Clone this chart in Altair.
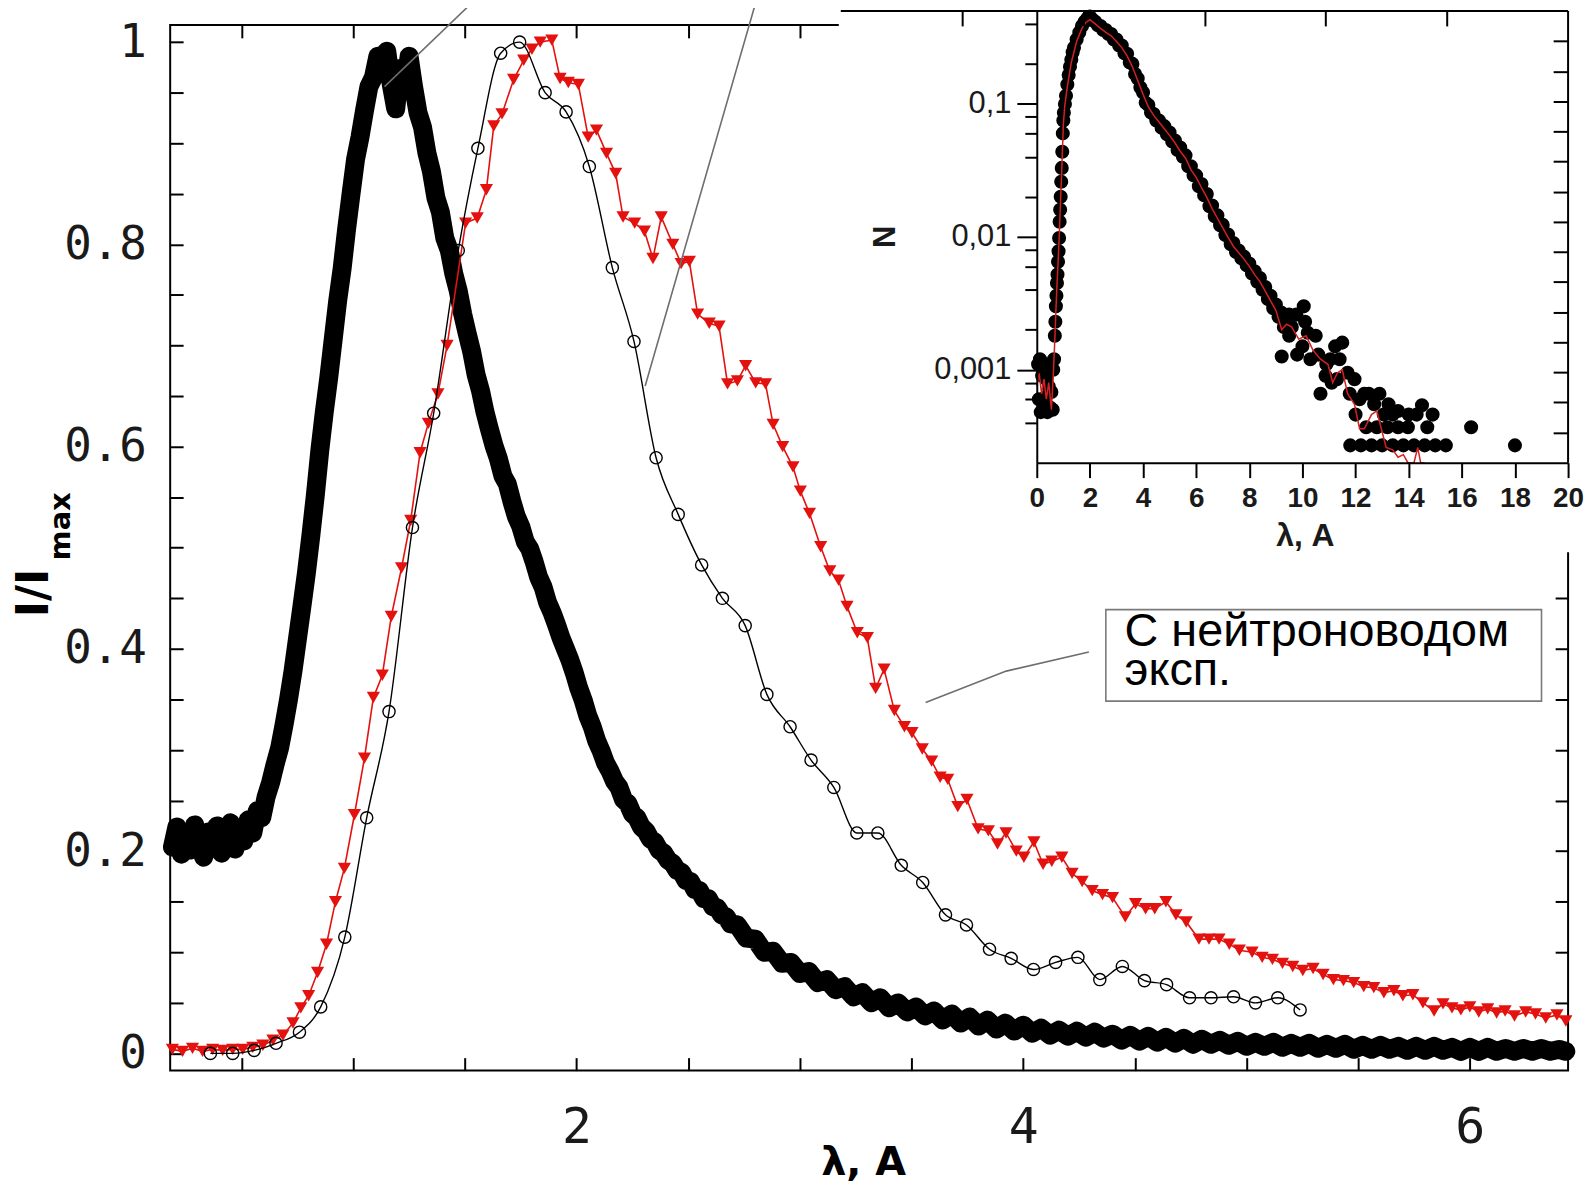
import altair as alt
import pandas as pd

# ---------------- main panel data (lambda, I/Imax) ----------------
BLACK_X = [0.19, 0.21, 0.23, 0.25, 0.27, 0.29, 0.31, 0.33, 0.35, 0.37, 0.39, 0.41, 0.43, 0.45, 0.47, 0.49,
           0.51, 0.53, 0.55, 0.57, 0.59, 0.61, 0.63, 0.65, 0.67, 0.69, 0.71, 0.73, 0.75, 0.77, 0.79, 0.81,
           0.83, 0.85, 0.87, 0.89, 0.91, 0.93, 0.95, 0.97, 0.99, 1.01, 1.03, 1.05, 1.07, 1.09, 1.11, 1.13,
           1.15, 1.17, 1.19, 1.21, 1.23, 1.25, 1.27, 1.29, 1.31, 1.33, 1.35, 1.37, 1.39, 1.41, 1.43, 1.45,
           1.47, 1.49, 1.51, 1.53, 1.55, 1.57, 1.59, 1.61, 1.63, 1.65, 1.67, 1.69, 1.71, 1.73, 1.75, 1.77,
           1.79, 1.81, 1.83, 1.85, 1.87, 1.89, 1.91, 1.93, 1.95, 1.97, 1.99, 2.01, 2.03, 2.05, 2.07, 2.09,
           2.11, 2.13, 2.15, 2.17, 2.19, 2.21, 2.23, 2.25, 2.27, 2.29, 2.31, 2.33, 2.35, 2.37, 2.39, 2.41,
           2.43, 2.45, 2.47, 2.49, 2.51, 2.53, 2.55, 2.57, 2.59, 2.61, 2.63, 2.65, 2.67, 2.69, 2.72, 2.76,
           2.80, 2.84, 2.88, 2.92, 2.96, 3.00, 3.04, 3.08, 3.12, 3.16, 3.20, 3.24, 3.28, 3.32, 3.36, 3.40,
           3.44, 3.48, 3.52, 3.56, 3.60, 3.64, 3.68, 3.72, 3.76, 3.80, 3.84, 3.88, 3.92, 3.96, 4.00, 4.04,
           4.08, 4.12, 4.16, 4.20, 4.24, 4.28, 4.32, 4.36, 4.40, 4.44, 4.48, 4.52, 4.56, 4.60, 4.64, 4.68,
           4.72, 4.76, 4.80, 4.84, 4.88, 4.92, 4.96, 5.00, 5.04, 5.08, 5.12, 5.16, 5.20, 5.24, 5.28, 5.32,
           5.36, 5.40, 5.44, 5.48, 5.52, 5.56, 5.60, 5.64, 5.68, 5.72, 5.76, 5.80, 5.84, 5.88, 5.92, 5.96,
           6.00, 6.04, 6.08, 6.12, 6.16, 6.20, 6.24, 6.28, 6.32, 6.36, 6.40, 6.43]
BLACK_Y = [0.204, 0.224, 0.197, 0.218, 0.201, 0.226, 0.209, 0.194, 0.219, 0.203, 0.225, 0.198, 0.215, 0.228, 0.202, 0.221,
           0.210, 0.231, 0.218, 0.240, 0.233, 0.254, 0.268, 0.286, 0.302, 0.325, 0.350, 0.378, 0.410, 0.442, 0.475, 0.512,
           0.552, 0.596, 0.634, 0.668, 0.706, 0.744, 0.776, 0.815, 0.850, 0.884, 0.906, 0.932, 0.956, 0.965, 0.986, 0.970,
           0.991, 0.958, 0.934, 0.974, 0.952, 0.986, 0.956, 0.930, 0.916, 0.890, 0.872, 0.846, 0.832, 0.806, 0.794, 0.771,
           0.754, 0.731, 0.712, 0.694, 0.671, 0.655, 0.634, 0.617, 0.601, 0.588, 0.571, 0.563, 0.546, 0.531, 0.521, 0.506,
           0.499, 0.486, 0.471, 0.461, 0.446, 0.436, 0.424, 0.411, 0.400, 0.389, 0.376, 0.361, 0.349, 0.334, 0.323, 0.309,
           0.299, 0.287, 0.279, 0.269, 0.263, 0.251, 0.247, 0.237, 0.233, 0.224, 0.220, 0.212, 0.209, 0.201, 0.198, 0.191,
           0.188, 0.181, 0.179, 0.171, 0.170, 0.162, 0.161, 0.153, 0.153, 0.145, 0.144, 0.137, 0.135, 0.128, 0.127, 0.114,
           0.113, 0.100, 0.101, 0.089, 0.090, 0.079, 0.081, 0.070, 0.073, 0.063, 0.066, 0.056, 0.060, 0.050, 0.055, 0.045,
           0.050, 0.041, 0.046, 0.037, 0.042, 0.033, 0.039, 0.030, 0.036, 0.027, 0.033, 0.024, 0.030, 0.022, 0.028, 0.020,
           0.025, 0.018, 0.023, 0.017, 0.022, 0.016, 0.021, 0.015, 0.019, 0.013, 0.018, 0.012, 0.017, 0.011, 0.016, 0.010,
           0.015, 0.009, 0.014, 0.009, 0.013, 0.008, 0.012, 0.007, 0.011, 0.007, 0.011, 0.006, 0.010, 0.006, 0.010, 0.005,
           0.009, 0.005, 0.009, 0.004, 0.008, 0.004, 0.008, 0.004, 0.007, 0.003, 0.007, 0.003, 0.007, 0.003, 0.006, 0.002,
           0.006, 0.002, 0.006, 0.002, 0.005, 0.002, 0.005, 0.002, 0.005, 0.002, 0.004, 0.002]

RED_X = [0.19, 0.235, 0.28, 0.325, 0.37, 0.415, 0.46, 0.505, 0.55, 0.595, 0.64, 0.685, 0.73, 0.765, 0.80, 0.84,
         0.88, 0.92, 0.96, 1.005, 1.05, 1.09, 1.13, 1.17, 1.216, 1.257, 1.299, 1.336, 1.379, 1.42, 1.503, 1.555,
         1.596, 1.629, 1.666, 1.718, 1.763, 1.80, 1.837, 1.889, 1.926, 1.963, 2.008, 2.052, 2.089, 2.134, 2.175,
         2.208, 2.26, 2.304, 2.342, 2.379, 2.431, 2.468, 2.505, 2.542, 2.594, 2.638, 2.676, 2.72, 2.757, 2.802,
         2.846, 2.88, 2.923, 2.969, 3.002, 3.043, 3.093, 3.134, 3.173, 3.211, 3.257, 3.302, 3.339, 3.377, 3.423,
         3.468, 3.502, 3.548, 3.59, 3.628, 3.662, 3.707, 3.748, 3.798, 3.844, 3.885, 3.923, 3.969, 4.003, 4.048,
         4.089, 4.128, 4.173, 4.219, 4.264, 4.309, 4.355, 4.40, 4.457, 4.503, 4.548, 4.589, 4.639, 4.684, 4.73,
         4.787, 4.832, 4.877, 4.923, 4.968, 5.025, 5.07, 5.116, 5.161, 5.207, 5.252, 5.298, 5.343, 5.389, 5.434,
         5.48, 5.525, 5.57, 5.615, 5.66, 5.70, 5.745, 5.79, 5.84, 5.88, 5.92, 5.96, 6.0, 6.04, 6.08, 6.12, 6.158,
         6.2, 6.25, 6.294, 6.34, 6.39, 6.43]
RED_Y = [0.004, 0.002, 0.005, 0.002, 0.004, 0.003, 0.004, 0.004, 0.006, 0.008, 0.013, 0.018, 0.030, 0.045, 0.057, 0.080,
         0.108, 0.150, 0.183, 0.236, 0.292, 0.352, 0.374, 0.432, 0.480, 0.527, 0.594, 0.623, 0.652, 0.700, 0.821, 0.826,
         0.854, 0.917, 0.929, 0.963, 0.982, 0.993, 1.000, 1.002, 0.964, 0.960, 0.958, 0.906, 0.913, 0.890, 0.870,
         0.827, 0.821, 0.813, 0.786, 0.827, 0.800, 0.781, 0.783, 0.731, 0.722, 0.719, 0.662, 0.665, 0.680, 0.663,
         0.662, 0.622, 0.600, 0.580, 0.556, 0.534, 0.501, 0.477, 0.468, 0.442, 0.416, 0.411, 0.361, 0.380, 0.339,
         0.323, 0.317, 0.301, 0.289, 0.273, 0.271, 0.244, 0.251, 0.222, 0.220, 0.207, 0.218, 0.200, 0.194, 0.209,
         0.187, 0.190, 0.194, 0.178, 0.170, 0.161, 0.157, 0.154, 0.135, 0.148, 0.143, 0.143, 0.150, 0.137, 0.130,
         0.113, 0.113, 0.113, 0.108, 0.102, 0.100, 0.095, 0.093, 0.089, 0.086, 0.082, 0.084, 0.078, 0.073, 0.072,
         0.070, 0.066, 0.065, 0.060, 0.062, 0.057, 0.058, 0.050, 0.042, 0.049, 0.045, 0.043, 0.046, 0.041, 0.044,
         0.040, 0.042, 0.037, 0.041, 0.039, 0.035, 0.038, 0.032]

CIRC_X = [0.36, 0.46, 0.556, 0.654, 0.759, 0.854, 0.962, 1.06, 1.16, 1.265, 1.36, 1.47, 1.558, 1.66, 1.745,
          1.859, 1.953, 2.057, 2.16, 2.257, 2.356, 2.455, 2.56, 2.653, 2.755, 2.852, 2.956, 3.05, 3.152, 3.255,
          3.349, 3.454, 3.55, 3.652, 3.746, 3.849, 3.946, 4.046, 4.145, 4.245, 4.343, 4.444, 4.543, 4.642,
          4.745, 4.841, 4.942, 5.04, 5.14, 5.24]
CIRC_Y = [0.0, 0.0, 0.003, 0.010, 0.021, 0.046, 0.115, 0.233, 0.338, 0.520, 0.633, 0.794, 0.895, 0.989, 1.0,
          0.950, 0.931, 0.877, 0.777, 0.704, 0.589, 0.533, 0.483, 0.450, 0.423, 0.355, 0.323, 0.290, 0.263, 0.218,
          0.218, 0.186, 0.169, 0.137, 0.127, 0.103, 0.094, 0.083, 0.090, 0.095, 0.073, 0.086, 0.072, 0.068,
          0.055, 0.055, 0.056, 0.050, 0.055, 0.043]

# ---------------- inset data (lambda, N, log scale) ----------------
INSET_DOT_X = [0.05, 0.08, 0.12, 0.15, 0.2, 0.24, 0.28, 0.32, 0.36, 0.4, 0.45, 0.5, 0.55, 0.6, 0.62,
               0.65, 0.68, 0.70, 0.72, 0.74, 0.76, 0.78, 0.80, 0.82, 0.84, 0.86, 0.88, 0.90, 0.92, 0.94, 0.96,
               0.98, 1.0, 1.02, 1.06, 1.1, 1.15, 1.2, 1.25, 1.3, 1.35, 1.4, 1.5, 1.6, 1.7, 1.8, 1.9, 2.0,
               2.1, 2.2, 2.3, 2.4, 2.5, 2.6, 2.7, 2.8, 2.9, 3.0, 3.1, 3.2, 3.3, 3.4, 3.5, 3.6, 3.7, 3.8, 3.9,
               4.0, 4.1, 4.2, 4.3, 4.4, 4.5, 4.6, 4.7, 4.8, 4.9, 5.0, 5.1, 5.2, 5.3, 5.4, 5.5, 5.6, 5.7, 5.8,
               5.9, 6.0, 6.1, 6.2, 6.3, 6.4, 6.5, 6.6, 6.7, 6.8, 6.9, 7.0, 7.1, 7.2, 7.3, 7.4, 7.5, 7.6, 7.7,
               7.8, 7.9, 8.0, 8.1, 8.2, 8.3, 8.4, 8.5, 8.6, 8.7, 8.8, 8.9, 9.0, 9.1, 9.2, 9.3, 9.4, 9.5, 9.6,
               9.22, 9.5, 9.77, 9.8, 10.0, 10.05, 10.1, 10.2, 10.3, 10.5, 10.6, 10.68, 10.87, 10.9, 11.05,
               11.1, 11.23, 11.3, 11.4, 11.5, 11.7, 11.78, 11.96, 12.0, 12.15, 12.33, 12.4, 12.5, 12.7, 12.8,
               12.9, 13.06, 13.2, 13.24, 13.4, 13.6, 13.6, 13.97, 14.0, 14.3, 14.5, 14.7, 14.9,
               11.8, 12.2, 12.6, 13.0, 13.4, 13.8, 14.2, 14.6, 15.0, 15.4, 16.35, 18.0]
INSET_DOT_Y = [0.0011, 0.0006, 0.0012, 0.00048, 0.0009, 0.0005, 0.0011, 0.00062, 0.00085, 0.00048, 0.00075,
               0.00052, 0.00068, 0.0005, 0.001,
               0.0012, 0.0018, 0.0023, 0.003, 0.0036, 0.0045, 0.0052, 0.0065, 0.0078, 0.0098, 0.013, 0.016,
               0.020, 0.026, 0.033, 0.0436, 0.06, 0.075, 0.0858, 0.1, 0.115, 0.14, 0.165, 0.19, 0.215, 0.245,
               0.265, 0.305, 0.345, 0.385, 0.415, 0.44, 0.455,
               0.43, 0.415, 0.39, 0.385, 0.36, 0.36, 0.335, 0.335, 0.305, 0.305, 0.275, 0.275, 0.24, 0.238,
               0.205, 0.2, 0.168, 0.155, 0.133, 0.122, 0.102, 0.098, 0.086, 0.084, 0.075, 0.075, 0.066, 0.068,
               0.059, 0.061, 0.052, 0.053, 0.045, 0.047, 0.04, 0.041, 0.034, 0.034, 0.029, 0.029, 0.024, 0.025,
               0.0205, 0.021, 0.017, 0.0172, 0.0143, 0.0145, 0.0122, 0.0123, 0.0103, 0.0104, 0.0088, 0.009,
               0.0077, 0.0079, 0.0069, 0.0071, 0.0061, 0.0063, 0.0053, 0.0055, 0.0046, 0.0049, 0.004, 0.0042,
               0.0034, 0.0036, 0.0029, 0.0031, 0.0025, 0.0027, 0.0021, 0.0023, 0.0018, 0.0021,
               0.00126, 0.0026, 0.0026, 0.0013, 0.0015, 0.003, 0.0023, 0.0019, 0.0012, 0.0018, 0.0013, 0.00066,
               0.0009, 0.0011, 0.0012, 0.0008, 0.0015, 0.00085, 0.0012, 0.0016, 0.00095, 0.00066, 0.00085,
               0.00046, 0.0006, 0.00066, 0.00037, 0.00066, 0.00055, 0.00037, 0.00066, 0.00046, 0.00037,
               0.00055, 0.00046, 0.00049, 0.00037, 0.00037, 0.00046, 0.00046, 0.00054, 0.00037, 0.00046,
               0.00027, 0.00027, 0.00027, 0.00027, 0.00027, 0.00027, 0.00027, 0.00027, 0.00027, 0.00027,
               0.00037, 0.00027]

INSET_RED_X = [0.0, 0.09, 0.18, 0.27, 0.36, 0.45, 0.55, 0.62, 0.68, 0.72, 0.76, 0.8, 0.84, 0.88, 0.92, 0.96,
               1.0, 1.05, 1.15, 1.3, 1.5, 1.7, 1.85, 2.0, 2.2, 2.4, 2.6, 2.8, 3.0, 3.2, 3.4, 3.6, 3.8, 4.0,
               4.2, 4.4, 4.6, 4.8, 5.0, 5.2, 5.4, 5.6, 5.8, 6.0, 6.2, 6.4, 6.6, 6.8, 7.0, 7.2, 7.4, 7.6, 7.8,
               8.0, 8.2, 8.4, 8.6, 8.8, 9.0, 9.22, 9.4, 9.59, 9.86, 10.14, 10.4, 10.68, 10.96, 11.14, 11.32,
               11.5, 11.7, 11.96, 12.15, 12.33, 12.6, 12.8, 12.97, 13.15, 13.4, 13.6, 13.8, 13.97, 14.2,
               14.34, 14.45, 14.6]
INSET_RED_Y = [0.00075, 0.00094, 0.00066, 0.00085, 0.0006, 0.0008, 0.0005, 0.0009, 0.0017, 0.0028, 0.0043,
               0.0063, 0.0095, 0.0155, 0.025, 0.041, 0.07, 0.095, 0.135, 0.205, 0.295, 0.37, 0.41, 0.43, 0.40,
               0.37, 0.345, 0.325, 0.295, 0.265, 0.23, 0.19, 0.15, 0.118, 0.095, 0.082, 0.073, 0.065, 0.058,
               0.051, 0.044, 0.039, 0.032, 0.028, 0.0235, 0.0198, 0.0163, 0.0138, 0.0117, 0.0099, 0.0085,
               0.0076, 0.0068, 0.006, 0.0052, 0.0046, 0.0039, 0.0033, 0.0028, 0.002, 0.0022, 0.0021, 0.0017,
               0.0018, 0.0014, 0.0012, 0.0011, 0.0008, 0.00095, 0.001, 0.00066, 0.00055, 0.00036, 0.00036,
               0.00046, 0.00049, 0.00036, 0.00026, 0.00025, 0.00022, 0.00023, 0.0002, 0.0002, 0.00026,
               0.0002, 0.0002]

# ---------------- ticks and annotations ----------------
X_TICKS = [0.5, 1.0, 1.5, 2.0, 2.5, 3.0, 3.5, 4.0, 4.5, 5.0, 5.5, 6.0]
Y_TICKS = [0.0, 0.05, 0.1, 0.15, 0.2, 0.25, 0.3, 0.35, 0.4, 0.45, 0.5, 0.55, 0.6, 0.65, 0.7, 0.75,
           0.8, 0.85, 0.9, 0.95, 1.0]
INSET_X_TICKS = [0, 2, 4, 6, 8, 10, 12, 14, 16, 18, 20]
INSET_Y_TICKS = [0.0004, 0.0006, 0.0008, 0.001, 0.002, 0.004, 0.006, 0.008, 0.01, 0.02, 0.04, 0.06,
                 0.08, 0.1, 0.2, 0.4]
FRAME_TOP_TICKS = [1, 2, 3, 4, 5]
FRAME_RIGHT_TICKS = [1, 2, 3, 4, 5, 6, 7, 8, 9, 10, 11, 12, 13, 14]

LEADER_X1 = [1.532, 2.802]
LEADER_Y1 = [1.039, 1.039]
LEADER_X2 = [1.14, 2.307]
LEADER_Y2 = [0.956, 0.660]
BOX_LEADER_X = [3.563, 3.924, 4.294]
BOX_LEADER_Y = [0.347, 0.378, 0.397]
BOX_X = [4.37, 6.321]
BOX_Y = [0.3483, 0.4388]
BOX_TEXT = ["С нейтроноводом", "эксп."]
BOX_TEXT_X = [4.454, 4.454]
BOX_TEXT_Y = [0.4025, 0.3645]

W, H = 1405, 1051
RED = "#e3120f"

mx = alt.Scale(domain=[0.18, 6.44], nice=False, zero=False)
my = alt.Scale(domain=[-0.017, 1.017], nice=False, zero=False)
ix = alt.Scale(domain=[0, 20], range=[871, 1405], nice=False, zero=False)
iy = alt.Scale(type="log", domain=[0.0002, 0.5], range=[440, -14], nice=False)
fx = alt.Scale(domain=[0, 6], range=[674, 1405], nice=False, zero=False)
fy = alt.Scale(domain=[0, 15], range=[440, -14], nice=False, zero=False)

tick_common = dict(domain=False, grid=False, tickColor="black", tickWidth=2, tickSize=13, offset=-13,
                   title="")
mono = dict(labelFont="DejaVu Sans Mono", labelColor="#1a1a1a", labelOverlap=False, labelFlush=False)
ax_bottom = alt.Axis(orient="bottom", values=X_TICKS, labelPadding=32, labelFontSize=50,
                     labelExpr="datum.value % 2 == 0 ? format(datum.value, 'd') : ''",
                     **mono, **tick_common)
ax_left = alt.Axis(orient="left", values=Y_TICKS, labelPadding=24, labelFontSize=46,
                   labelExpr="round(datum.value * 20) % 4 == 0 ? (datum.value > 0.99 ? '1' : "
                             "(datum.value < 0.01 ? '0' : format(datum.value, '.1f'))) : ''",
                   **mono, **tick_common)
ax_top = alt.Axis(orient="top", values=X_TICKS, labels=False, **tick_common)
ax_right = alt.Axis(orient="right", values=Y_TICKS, labels=False, **tick_common)

ax_ix = alt.Axis(orient="bottom", values=INSET_X_TICKS, offset=-611, tickSize=15, tickWidth=2,
                 tickColor="black", domain=True, domainColor="black", domainWidth=2, grid=False,
                 labelFont="Liberation Sans", labelFontWeight="bold", labelFontSize=28,
                 labelColor="#1a1a1a", labelPadding=7, labelFlush=False, labelOverlap=False,
                 format="d", zindex=1, title="")
ax_iy = alt.Axis(orient="left", values=INSET_Y_TICKS, offset=-871,
                 tickSize={"condition": {"test": "datum.value == 0.1 || datum.value == 0.01 || datum.value == 0.001",
                                         "value": 20}, "value": 12},
                 tickWidth=2, tickColor="black", domain=True, domainColor="black", domainWidth=2,
                 grid=False, labelFont="Liberation Sans", labelFontSize=31, labelColor="#1a1a1a",
                 labelPadding=6, labelOverlap=False, labelFlush=False,
                 labelExpr="datum.value == 0.1 ? '0,1' : datum.value == 0.01 ? '0,01' : "
                           "datum.value == 0.001 ? '0,001' : ''",
                 zindex=1, title="")
ax_ft = alt.Axis(orient="top", values=FRAME_TOP_TICKS, offset=-1, tickSize=15, tickWidth=2,
                 tickColor="black", domain=False, labels=False, grid=False, zindex=1, title="")
ax_fr = alt.Axis(orient="right", values=FRAME_RIGHT_TICKS, offset=-15, tickSize=15, tickWidth=2,
                 tickColor="black", domain=False, labels=False, grid=False, zindex=1, title="")

black_df = pd.DataFrame({"x": BLACK_X, "y": BLACK_Y})
red_df = pd.DataFrame({"x": RED_X, "y": RED_Y})
circ_df = pd.DataFrame({"x": CIRC_X, "y": CIRC_Y})
idot_df = pd.DataFrame({"x": INSET_DOT_X, "y": INSET_DOT_Y})
ired_df = pd.DataFrame({"x": INSET_RED_X, "y": INSET_RED_Y})
one = pd.DataFrame({"k": [0]})


def MX(f, axis=None):
    return alt.X(f, type="quantitative", scale=mx, axis=axis, title="")


def MY(f, axis=None):
    return alt.Y(f, type="quantitative", scale=my, axis=axis, title="")


black_line = alt.Chart(black_df).mark_line(color="black", strokeWidth=19, strokeJoin="round",
                                           strokeCap="round").encode(
    x=MX("x", ax_bottom), y=MY("y", ax_left))
black_pts = alt.Chart(black_df).mark_circle(color="black", size=210, opacity=1).encode(
    x=MX("x", ax_top), y=MY("y", ax_right))
red_line = alt.Chart(red_df).mark_line(color=RED, strokeWidth=1.6).encode(x=MX("x"), y=MY("y"))
red_pts = alt.Chart(red_df).mark_point(shape="triangle-down", filled=True, color=RED, size=175,
                                       opacity=1).encode(x=MX("x"), y=MY("y"))
circ_line = alt.Chart(circ_df).mark_line(color="black", strokeWidth=1.4, interpolate="monotone").encode(
    x=MX("x"), y=MY("y"))
circ_pts = alt.Chart(circ_df).mark_point(shape="circle", filled=False, color="black", size=150,
                                         strokeWidth=1.4, opacity=1).encode(x=MX("x"), y=MY("y"))

inset_bg = alt.Chart(one).mark_rect(color="white").encode(
    x=alt.value(672), x2=alt.value(1420), y=alt.value(-22), y2=alt.value(530))
inset_dots = alt.Chart(idot_df).mark_circle(color="black", size=200, opacity=1).encode(
    x=alt.X("x", type="quantitative", scale=ix, axis=ax_ix, title=""),
    y=alt.Y("y", type="quantitative", scale=iy, axis=ax_iy, title=""))
inset_red = alt.Chart(ired_df).mark_line(color="#d42020", strokeWidth=1.5).encode(
    x=alt.X("x", type="quantitative", scale=ix, axis=None, title=""),
    y=alt.Y("y", type="quantitative", scale=iy, axis=None, title=""))
frame_top = alt.Chart(pd.DataFrame({"a": [0], "b": [6]})).mark_rule(color="black", strokeWidth=2).encode(
    x=alt.X("a", type="quantitative", scale=fx, axis=ax_ft, title=""), x2="b", y=alt.value(-14))
frame_right = alt.Chart(pd.DataFrame({"a": [0], "b": [15]})).mark_rule(color="black", strokeWidth=2).encode(
    y=alt.Y("a", type="quantitative", scale=fy, axis=ax_fr, title=""), y2="b", x=alt.value(1405))

inset_xtitle = alt.Chart(pd.DataFrame({"t": ["λ, A"]})).mark_text(
    font="Liberation Sans", fontWeight="bold", fontSize=32, align="center", baseline="alphabetic",
    color="#1a1a1a").encode(x=alt.value(1141), y=alt.value(524), text="t")
inset_ytitle = alt.Chart(pd.DataFrame({"t": ["N"]})).mark_text(
    font="Liberation Sans", fontWeight="bold", fontSize=31, align="center", baseline="middle", angle=270,
    color="#1a1a1a").encode(x=alt.value(720), y=alt.value(213), text="t")

leaders = alt.Chart(pd.DataFrame({"x1": LEADER_X1, "y1": LEADER_Y1, "x2": LEADER_X2, "y2": LEADER_Y2})).mark_rule(
    color="#6e6e6e", strokeWidth=1.6).encode(x=MX("x1"), y=MY("y1"), x2="x2", y2="y2")
box_leader = alt.Chart(pd.DataFrame({"x": BOX_LEADER_X, "y": BOX_LEADER_Y, "o": [0, 1, 2]})).mark_line(
    color="#6e6e6e", strokeWidth=1.6).encode(x=MX("x"), y=MY("y"), order="o")
box = alt.Chart(pd.DataFrame({"x1": [BOX_X[0]], "x2": [BOX_X[1]], "y1": [BOX_Y[0]], "y2": [BOX_Y[1]]})).mark_rect(
    fill="white", stroke="#7a7a7a", strokeWidth=1.6).encode(x=MX("x1"), x2="x2", y=MY("y1"), y2="y2")
box_text = alt.Chart(pd.DataFrame({"t": BOX_TEXT, "x": BOX_TEXT_X, "y": BOX_TEXT_Y})).mark_text(
    font="Liberation Sans", fontSize=47, align="left", baseline="alphabetic", color="black").encode(
    x=MX("x"), y=MY("y"), text="t")

ytitle_main = alt.Chart(pd.DataFrame({"t": ["I/I"]})).mark_text(
    font="DejaVu Sans", fontWeight="bold", fontSize=44, align="center", baseline="middle", angle=270,
    color="black").encode(x=alt.value(-136), y=alt.value(571), text="t")
ytitle_sub = alt.Chart(pd.DataFrame({"t": ["max"]})).mark_text(
    font="DejaVu Sans", fontWeight="bold", fontSize=29, align="center", baseline="middle", angle=270,
    color="black").encode(x=alt.value(-110), y=alt.value(504), text="t")
xtitle_main = alt.Chart(pd.DataFrame({"t": ["λ, A"]})).mark_text(
    font="DejaVu Sans", fontWeight="bold", fontSize=40, align="center", baseline="alphabetic",
    color="black").encode(x=alt.value(697), y=alt.value(1156), text="t")

chart = alt.layer(
    black_line, black_pts, red_line, red_pts, circ_line, circ_pts,
    leaders, box_leader, box, box_text,
    inset_bg, inset_dots, inset_red, frame_top, frame_right, inset_xtitle, inset_ytitle,
    ytitle_main, ytitle_sub, xtitle_main,
).resolve_scale(x="independent", y="independent").resolve_axis(
    x="independent", y="independent"
).properties(
    width=W, height=H,
    autosize=alt.AutoSizeParams(type="none"),
    padding={"left": 163, "top": 14, "right": 16, "bottom": 114},
    background="white",
).configure_view(stroke="black", strokeWidth=2)

chart.save("out.html", embed_options={"renderer": "svg", "actions": False})
